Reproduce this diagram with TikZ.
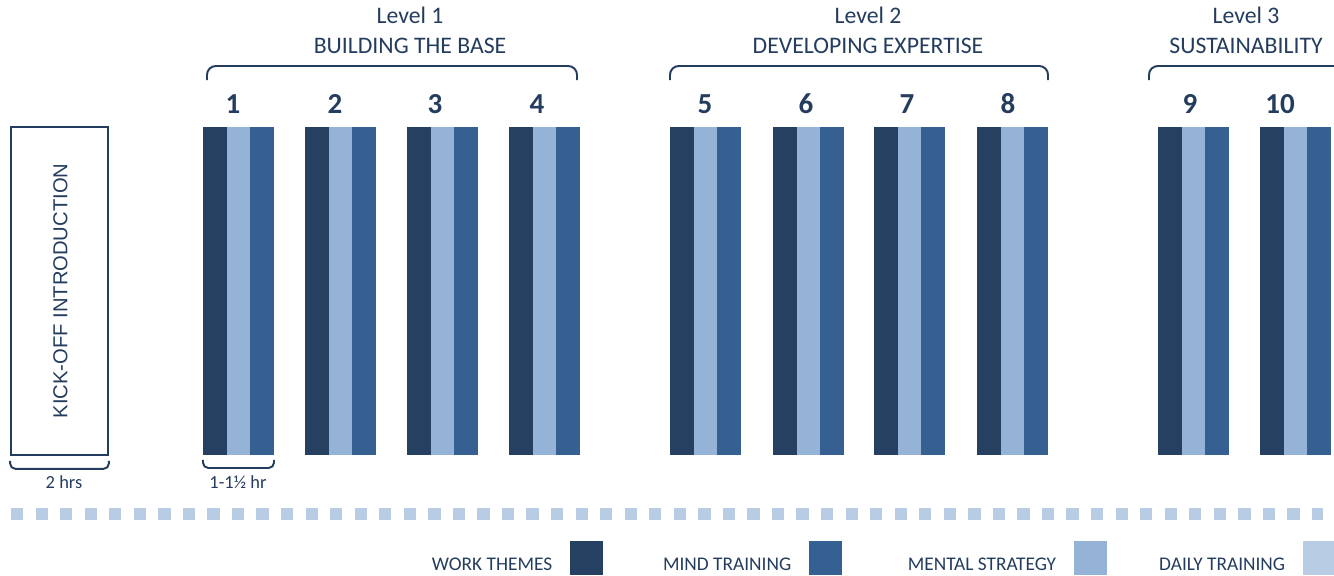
\documentclass[tikz,border=0pt]{standalone}
\usepackage{fontspec}
\setmainfont{Carlito}
\newfontfamily\arialfont{Liberation Sans}
\usepackage{tikz}
\usetikzlibrary{positioning,calc}
\definecolor{txtc}{RGB}{36,60,94}
\definecolor{workc}{RGB}{38,64,97}
\definecolor{mindc}{RGB}{54,96,146}
\definecolor{stratc}{RGB}{149,179,215}
\definecolor{dailyc}{RGB}{184,204,228}

\tikzset{
    stripe/.style={rectangle, inner sep=0pt, outer sep=0pt,
        minimum width=0.4733cm, minimum height=6.56cm},
    work/.style={stripe, fill=workc},
    strat/.style={stripe, fill=stratc},
    mind/.style={stripe, fill=mindc},
    num/.style={text=txtc, font=\fontsize{16.5}{18}\selectfont\bfseries},
    lvl/.style={text=txtc, align=center, font=\fontsize{13.5}{17}\selectfont},
    lbl/.style={text=txtc, font=\fontsize{10.5}{12}\selectfont},
    legtxt/.style={text=txtc, inner sep=0pt, font=\fontsize{11}{13}\selectfont},
    legbox/.style={rectangle, inner sep=0pt, outer sep=0pt,
        minimum width=0.66cm, minimum height=0.68cm},
    bracket/.style={draw=txtc, line width=1.1pt, rounded corners=3pt},
}

\begin{document}
\begin{tikzpicture}[x=0.02cm, y=-0.02cm]
    \useasboundingbox (0,0) rectangle (1334,575);

    % Kick-off block
    \node[draw=txtc, line width=1pt, minimum width=1.94cm, minimum height=6.56cm,
        inner sep=0pt] (kick) at (59.5,291) {};
    \node[rotate=90, text=txtc, font=\arialfont\fontsize{11.5}{13}\selectfont]
        (kicktxt) at (60.5,291) {KICK-OFF INTRODUCTION};

    % Sessions
    \node[work, anchor=west] (s1w) at (203,291) {};
    \node[strat, right=0pt of s1w] (s1s) {};
    \node[mind, right=0pt of s1s] (s1m) {};
    \node[work, anchor=west] (s2w) at (305,291) {};
    \node[strat, right=0pt of s2w] (s2s) {};
    \node[mind, right=0pt of s2s] (s2m) {};
    \node[work, anchor=west] (s3w) at (407,291) {};
    \node[strat, right=0pt of s3w] (s3s) {};
    \node[mind, right=0pt of s3s] (s3m) {};
    \node[work, anchor=west] (s4w) at (509,291) {};
    \node[strat, right=0pt of s4w] (s4s) {};
    \node[mind, right=0pt of s4s] (s4m) {};
    \node[work, anchor=west] (s5w) at (670,291) {};
    \node[strat, right=0pt of s5w] (s5s) {};
    \node[mind, right=0pt of s5s] (s5m) {};
    \node[work, anchor=west] (s6w) at (773,291) {};
    \node[strat, right=0pt of s6w] (s6s) {};
    \node[mind, right=0pt of s6s] (s6m) {};
    \node[work, anchor=west] (s7w) at (874,291) {};
    \node[strat, right=0pt of s7w] (s7s) {};
    \node[mind, right=0pt of s7s] (s7m) {};
    \node[work, anchor=west] (s8w) at (977,291) {};
    \node[strat, right=0pt of s8w] (s8s) {};
    \node[mind, right=0pt of s8s] (s8m) {};
    \node[work, anchor=west] (s9w) at (1158,291) {};
    \node[strat, right=0pt of s9w] (s9s) {};
    \node[mind, right=0pt of s9s] (s9m) {};
    \node[work, anchor=west] (s10w) at (1260,291) {};
    \node[strat, right=0pt of s10w] (s10s) {};
    \node[mind, right=0pt of s10s] (s10m) {};

    % Session numbers
    \node[num] (n1) at (233,104) {1};
    \node[num] (n2) at (335,104) {2};
    \node[num] (n3) at (435,104) {3};
    \node[num] (n4) at (537,104) {4};
    \node[num] (n5) at (705,104) {5};
    \node[num] (n6) at (806,104) {6};
    \node[num] (n7) at (907,104) {7};
    \node[num] (n8) at (1008,104) {8};
    \node[num] (n9) at (1190,104) {9};
    \node[num] (n10) at (1280,104) {10};

    % Levels
    \node[lvl] (lv1) at (410,30) {Level 1\\BUILDING THE BASE};
    \node[lvl] (lv2) at (868,30) {Level 2\\DEVELOPING EXPERTISE};
    \node[lvl] (lv3) at (1246,30) {Level 3\\SUSTAINABILITY};
    \draw[bracket, rounded corners=5pt] (207,80) |- (577,66) -- (577,80);
    \draw[bracket, rounded corners=5pt] (670,80) |- (1048,66) -- (1048,80);
    \draw[bracket, rounded corners=5pt] (1149,80) |- (1350,66);

    % Durations
    \draw[bracket] ($(kick.south west)+(0,5)$)
        |- ($(kick.south east)+(0,13)$) -- ++(0,-8);
    \node[lbl] (hrs) at (64,482) {2 hrs};
    \draw[bracket] ($(s1w.south west)+(0,5)$)
        |- ($(s1m.south east)+(0,13)$) -- ++(0,-8);
    \node[lbl] (hr) at (238,482) {1-1½ hr};

    % Daily training line
    \draw[dailyc, line width=0.24cm, dash pattern=on 0.246cm off 0.245cm]
        (11,514) -- (1323.3,514);

    % Legend
    \node[legbox, fill=workc] (lgw) at (586.5,558) {};
    \node[legtxt, anchor=base east] (ltw)
        at ([xshift=-0.35cm, yshift=0.1cm]lgw.south west) {WORK THEMES};
    \node[legbox, fill=mindc] (lgm) at (825.5,558) {};
    \node[legtxt, anchor=base east] (ltm)
        at ([xshift=-0.35cm, yshift=0.1cm]lgm.south west) {MIND TRAINING};
    \node[legbox, fill=stratc] (lgs) at (1090.5,558) {};
    \node[legtxt, anchor=base east] (lts)
        at ([xshift=-0.35cm, yshift=0.1cm]lgs.south west) {MENTAL STRATEGY};
    \node[legbox, fill=dailyc] (lgd) at (1319.5,558) {};
    \node[legtxt, anchor=base east] (ltd)
        at ([xshift=-0.35cm, yshift=0.1cm]lgd.south west) {DAILY TRAINING};
\end{tikzpicture}
\end{document}
